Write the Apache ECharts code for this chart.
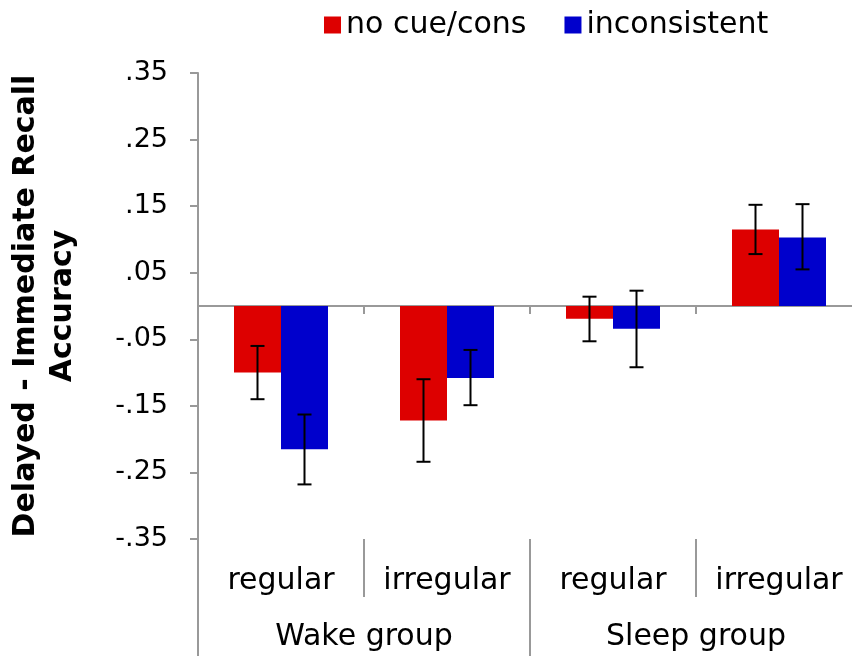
<!DOCTYPE html>
<html>
<head>
<meta charset="utf-8">
<script src="https://cdn.jsdelivr.net/npm/echarts@6/dist/echarts.min.js"></script>
<style>
  html, body { margin: 0; padding: 0; background: #fff; }
  #chart { width: 852px; height: 656px; }
</style>
</head>
<body>
<div id="chart"></div>
<script>
// data
var conditions = ['regular', 'irregular', 'regular', 'irregular'];
var groups = ['Wake group', 'Sleep group'];
var seriesNames = ['no cue/cons', 'inconsistent'];
var noCueMeans = [-0.100, -0.172, -0.019, 0.115];
var noCueLow = [-0.140, -0.234, -0.053, 0.078];
var noCueHigh = [-0.060, -0.110, 0.014, 0.152];
var inconsMeans = [-0.215, -0.108, -0.034, 0.103];
var inconsLow = [-0.268, -0.149, -0.092, 0.055];
var inconsHigh = [-0.163, -0.066, 0.023, 0.153];
var yTicks = [-0.35, -0.25, -0.15, -0.05, 0.05, 0.15, 0.25, 0.35];

var barW = 47;
var font = 'DejaVu Sans';

function errData(lo, hi) {
    var res = [];
    for (var i = 0; i < lo.length; i++) {
        res.push([i, lo[i], hi[i]]);
    }
    return res;
}

function errorBars(shift) {
    return function (params, api) {
        var x = api.value(0);
        var lo = api.coord([x, api.value(1)]);
        var hi = api.coord([x, api.value(2)]);
        var cx = lo[0] + shift;
        var cap = 7;
        var style = { stroke: '#000', lineWidth: 2 };
        return {
            type: 'group',
            children: [
                { type: 'line', shape: { x1: cx, y1: lo[1], x2: cx, y2: hi[1] }, style: style },
                { type: 'line', shape: { x1: cx - cap, y1: lo[1], x2: cx + cap, y2: lo[1] }, style: style },
                { type: 'line', shape: { x1: cx - cap, y1: hi[1], x2: cx + cap, y2: hi[1] }, style: style }
            ]
        };
    };
}

function fmt(v) {
    var s = Math.abs(v).toFixed(2).replace(/^0/, '');
    return (v < 0 ? '-' : '') + s;
}

var myChart = echarts.init(document.getElementById('chart'));

var option = {
    animation: false,
    textStyle: { fontFamily: font },
    legend: {
        data: seriesNames,
        left: 319,
        top: 5,
        itemWidth: 17,
        itemHeight: 17,
        itemGap: 38,
        icon: 'rect',
        textStyle: { fontSize: 30, color: '#000', fontFamily: font }
    },
    grid: { left: 198, right: -10, top: 73, bottom: 117, outerBoundsMode: 'none', containLabel: false },
    xAxis: [
        {
            type: 'category',
            data: conditions,
            axisLine: { onZero: true, lineStyle: { color: '#999', width: 2 } },
            axisTick: { show: true, length: 8, lineStyle: { color: '#999', width: 2 } },
            axisLabel: { show: false }
        },
        {
            type: 'category',
            data: conditions,
            position: 'bottom',
            axisLine: { show: false, onZero: false },
            axisTick: { show: true, length: 58, lineStyle: { color: '#999', width: 2 } },
            axisLabel: { margin: 27, fontSize: 30, color: '#000', fontFamily: font }
        },
        {
            type: 'category',
            data: groups,
            position: 'bottom',
            axisLine: { show: false, onZero: false },
            axisTick: { show: true, length: 120, lineStyle: { color: '#999', width: 2 } },
            axisLabel: { margin: 83, fontSize: 30, color: '#000', fontFamily: font }
        }
    ],
    yAxis: {
        type: 'value',
        min: yTicks[0],
        max: yTicks[yTicks.length - 1],
        interval: 0.1,
        name: 'Delayed - Immediate Recall\nAccuracy',
        nameLocation: 'middle',
        nameRotate: 90,
        nameGap: 116,
        nameTextStyle: { fontSize: 30, fontWeight: 'bold', color: '#000', lineHeight: 37, fontFamily: font },
        axisLine: { show: true, lineStyle: { color: '#999', width: 2 } },
        axisTick: { show: true, length: 8, lineStyle: { color: '#999', width: 2 } },
        splitLine: { show: false },
        axisLabel: {
            margin: 30,
            fontSize: 27,
            color: '#000',
            fontFamily: font,
            formatter: fmt
        }
    },
    series: [
        {
            name: seriesNames[0],
            type: 'bar',
            data: noCueMeans,
            barWidth: barW,
            barGap: 0,
            itemStyle: { color: '#dd0000' }
        },
        {
            name: seriesNames[1],
            type: 'bar',
            data: inconsMeans,
            barWidth: barW,
            barGap: 0,
            itemStyle: { color: '#0000cc' }
        },
        {
            type: 'custom',
            renderItem: errorBars(-barW / 2),
            data: errData(noCueLow, noCueHigh),
            z: 10
        },
        {
            type: 'custom',
            renderItem: errorBars(barW / 2),
            data: errData(inconsLow, inconsHigh),
            z: 10
        }
    ]
};

myChart.setOption(option);
window.addEventListener('resize', function () {
    myChart.resize();
});
</script>
</body>
</html>
